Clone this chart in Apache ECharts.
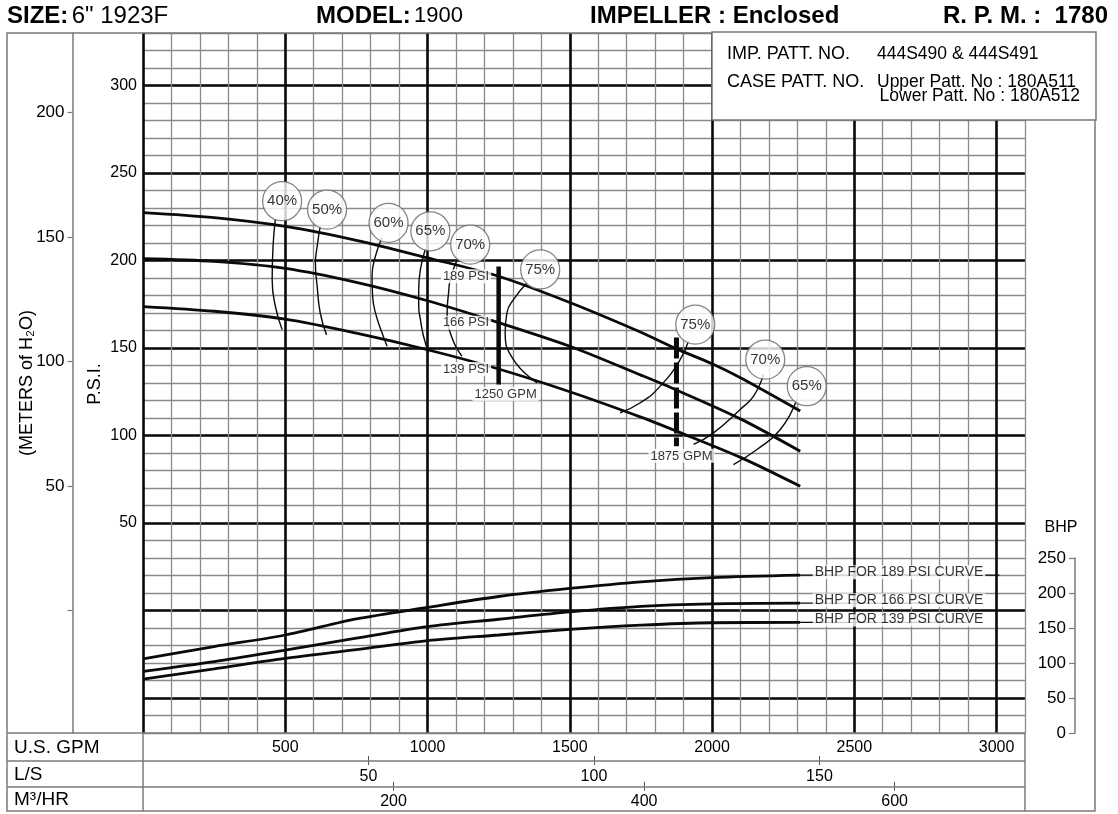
<!DOCTYPE html>
<html>
<head>
<meta charset="utf-8">
<script src="https://cdn.jsdelivr.net/npm/echarts@6/dist/echarts.min.js"></script>
<style>
html,body{margin:0;padding:0;background:#fff;}
#c{width:1118px;height:814px;}
</style>
</head>
<body>
<div id="c"></div>
<script>
// ---------------- DATA ----------------
const gpmTickLabels = [500, 1000, 1500, 2000, 2500, 3000];
const lsTickLabels = [50, 100, 150];
const m3hTickLabels = [200, 400, 600];
const psiTickLabels = [50, 100, 150, 200, 250, 300];
const meterTickLabels = [50, 100, 150, 200];
const meterTicks = [0, 50, 100, 150, 200];
const bhpTickLabels = [0, 50, 100, 150, 200, 250];

// head curves: [US GPM, PSI]
const head189 = [[0,227.4],[250,224.5],[500,219.5],[750,211.5],[1000,201.5],[1250,191],[1500,176],[1750,159],[1875,149.5],[2000,141],[2100,133],[2310,114]];
const head166 = [[0,201],[250,199.5],[500,195.5],[750,187.5],[1000,177],[1250,164.5],[1500,151],[1750,134.5],[1875,126],[2100,109.5],[2310,91]];
const head139 = [[0,173.7],[250,171],[500,166.5],[750,158.5],[1000,149],[1250,138],[1500,125],[1750,110.5],[1875,102.5],[2100,87.5],[2310,71]];

// BHP curves: [US GPM, BHP]
const bhp189 = [[0,106],[250,123.5],[500,140],[750,163],[1000,179.5],[1250,195],[1500,206.5],[1750,216],[2000,222],[2310,225.5]];
const bhp166 = [[0,88],[250,102],[500,118.5],[750,135.5],[1000,152],[1250,162.5],[1500,173],[1750,181],[2000,184.5],[2310,185.5]];
const bhp139 = [[0,77],[250,91.5],[500,106.5],[750,119],[1000,132],[1250,140],[1500,148],[1750,154],[2000,157.5],[2310,158]];
const bhpCurveNames = ['BHP FOR 189 PSI CURVE', 'BHP FOR 166 PSI CURVE', 'BHP FOR 139 PSI CURVE'];
const bhpLeaderEnd = [3010, 2900, 2900];

// iso-efficiency lines: [US GPM, PSI]
const eff40 = [[465,223.4],[457,208],[454,189],[465,174],[489,160.5]];
const eff50 = [[623,219.6],[612,208],[606,198.5],[612,185.5],[623,170],[645,157.5]];
const eff60 = [[840,213],[817,202.5],[805,191],[807,179.6],[817,170.1],[840,158.7],[858,151]];
const eff65L = [[992,206.3],[975,194.9],[969,183.4],[969,173.9],[975,166.3],[986,156.7],[1004,147.3]];
const eff70L = [[1104,200.6],[1080,189.1],[1074,181.5],[1069,170.1],[1086,155.8],[1121,145.3]];
const eff75L = [[1350,187.3],[1302,177.7],[1279,170.1],[1273,158.7],[1302,143.4],[1385,130.1]];
const eff75R = [[1917,153.9],[1888,143.4],[1818,128.2],[1748,118.7],[1677,113]];
const eff70R = [[2181,134.9],[2146,122.5],[2099,114.9],[2005,101.5],[1935,94.9]];
const eff65R = [[2298,120.6],[2240,103.4],[2158,92],[2075,83.4]];

const effCircleGpm = [489, 647, 863, 1010, 1150, 1396, 1941, 2187, 2333];
const effCirclePsi = [233.9, 229.1, 221.5, 216.7, 209.1, 194.9, 163.4, 143.4, 128.2];
const effCircleText = ['40%', '50%', '60%', '65%', '70%', '75%', '75%', '70%', '65%'];

// design points
const bar1250 = [[1250,196.6],[1250,129.1]];
const bar1875 = [[1875,156],[1875,93.9]];
const psiPointLabels = ['189 PSI', '166 PSI', '139 PSI'];
const psiPointValues = [191, 164.5, 138];
const psiPointGpm = 1250;

// ---------------- CONSTANTS ----------------
const FONT = "'Liberation Sans', Arial, Helvetica, sans-serif";
const GPM_MAX = 3100, PSI_MIN = -70, PSI_MAX = 330;
const GPM_PER_LS = 15.8503, GPM_PER_M3H = 4.40287, PSI_PER_M = 1.42233;
const TXT = '#000', FRAME = '#7a7a7a', MINOR = '#8a8a8a', MAJOR = '#0a0a0a';

const chart = echarts.init(document.getElementById('c'));

function curve(data, width, z, smooth, xi, yi) {
  return {type:'line', xAxisIndex:xi||0, yAxisIndex:yi||0, data:data, symbol:'none',
    smooth:smooth, silent:true, z:z, lineStyle:{color:MAJOR, width:width}};
}

const series = [];
[head189, head166, head139].forEach(d => series.push(curve(d, 2.8, 5, 0.3)));
[eff40, eff50, eff60, eff65L, eff70L, eff75L, eff75R, eff70R, eff65R].forEach(d => series.push(curve(d, 1.4, 4, 0.5)));
series.push({type:'line', data:bar1250, symbol:'none', silent:true, z:6, lineStyle:{color:MAJOR, width:4.5, cap:'butt'}});
series.push({type:'line', data:bar1875, symbol:'none', silent:true, z:6, lineStyle:{color:MAJOR, width:5, type:[21,4], cap:'butt'}});

// labels at design points
series.push({type:'scatter', z:8, silent:true, symbolSize:1, itemStyle:{color:'rgba(0,0,0,0)'},
  data: psiPointLabels.map((t,i) => ({name:t, value:[psiPointGpm, psiPointValues[i]]})),
  label:{show:true, position:'left', distance:7, formatter:p => p.name, fontFamily:FONT, fontSize:13, color:TXT,
    backgroundColor:'#fff', padding:[1,2,0,2]}});
series.push({type:'scatter', z:8, silent:true, symbolSize:1, itemStyle:{color:'rgba(0,0,0,0)'},
  data:[{name:bar1250[1][0] + ' GPM', value:bar1250[1], label:{offset:[7,0]}},
        {name:bar1875[1][0] + ' GPM', value:bar1875[1], label:{offset:[5,0]}}],
  label:{show:true, position:'bottom', distance:2, formatter:p => p.name, fontFamily:FONT, fontSize:13, color:TXT,
    backgroundColor:'#fff', padding:[1,2,0,2]}});

// efficiency circles
series.push({type:'scatter', z:10, silent:true, symbol:'circle', symbolSize:39,
  itemStyle:{color:'#fff', borderColor:'#666', borderWidth:1.3},
  data: effCircleGpm.map((g,i) => ({name:effCircleText[i], value:[g, effCirclePsi[i]]})),
  label:{show:true, position:'inside', formatter:p => p.name, fontFamily:FONT, fontSize:15, color:TXT}});

// BHP curves on the lower grid
[bhp189, bhp166, bhp139].forEach((d, i) => {
  const end = d[d.length - 1];
  series.push(curve(d, 2.8, 5, 0.3, 4, 3));
  series.push({type:'line', xAxisIndex:4, yAxisIndex:3, symbol:'none', silent:true, z:4,
    data:[end, [bhpLeaderEnd[i], end[1]]], lineStyle:{color:MAJOR, width:1.4}});
  series.push({type:'scatter', xAxisIndex:4, yAxisIndex:3, z:8, silent:true, symbolSize:1,
    itemStyle:{color:'rgba(0,0,0,0)'}, data:[{name:bhpCurveNames[i], value:end}],
    label:{show:true, position:'right', distance:12, offset:[0,-3], formatter:p => p.name,
      fontFamily:FONT, fontSize:14, color:TXT, backgroundColor:'#fff', padding:[0,2,0,2]}});
});

const hidden = {show:false};
const noLine = {show:false, onZero:false};
const option = {
  animation:false,
  backgroundColor:'#fff',
  textStyle:{fontFamily:FONT},
  grid:[
    {left:143, right:93, top:33, bottom:81},
    {left:143, right:93, top:558, bottom:81}
  ],
  xAxis:[
    {gridIndex:0, type:'value', position:'bottom', min:0, max:GPM_MAX, interval:100, axisLine:noLine, axisTick:hidden, axisLabel:hidden,
      splitLine:{show:true, lineStyle:{color:MINOR, width:1.3}}},
    {gridIndex:0, type:'value', position:'bottom', min:0, max:GPM_MAX, interval:500, axisLine:noLine, axisTick:hidden,
      axisLabel:{show:true, margin:7, fontSize:16, color:TXT, fontFamily:FONT, showMinLabel:false, showMaxLabel:false,
        formatter:v => gpmTickLabels.includes(v) ? String(v) : ''},
      splitLine:{show:true, showMaxLine:false, lineStyle:{color:MAJOR, width:2.6}}},
    {gridIndex:0, type:'value', position:'bottom', offset:23, min:0, max:GPM_MAX / GPM_PER_LS, interval:50,
      axisLine:noLine, splitLine:hidden,
      axisTick:{show:true, length:9, customValues:lsTickLabels, lineStyle:{color:'#555', width:1}},
      axisLabel:{show:true, margin:13, fontSize:16, color:TXT, fontFamily:FONT, customValues:lsTickLabels,
        formatter:v => lsTickLabels.includes(v) ? String(v) : ''}},
    {gridIndex:0, type:'value', position:'bottom', offset:48.7, min:0, max:GPM_MAX / GPM_PER_M3H, interval:200,
      axisLine:noLine, splitLine:hidden,
      axisTick:{show:true, length:9, customValues:m3hTickLabels, lineStyle:{color:'#555', width:1}},
      axisLabel:{show:true, margin:12, fontSize:16, color:TXT, fontFamily:FONT, customValues:m3hTickLabels,
        formatter:v => m3hTickLabels.includes(v) ? String(v) : ''}},
    {gridIndex:1, type:'value', position:'bottom', min:0, max:GPM_MAX, show:false, axisLine:noLine}
  ],
  yAxis:[
    {gridIndex:0, type:'value', position:'left', min:PSI_MIN, max:PSI_MAX, interval:10, axisLine:noLine, axisTick:hidden,
      axisLabel:{show:true, margin:6, fontSize:16, color:TXT, fontFamily:FONT,
        formatter:v => psiTickLabels.includes(v) ? String(v) : ''},
      splitLine:{show:true, lineStyle:{color:MINOR, width:1.3}}},
    {gridIndex:0, type:'value', position:'left', min:PSI_MIN, max:PSI_MAX, interval:10, axisLine:noLine, axisTick:hidden, axisLabel:hidden,
      splitLine:{show:true, showMinLine:true, showMaxLine:true,
        lineStyle:{color:['rgba(0,0,0,0)','rgba(0,0,0,0)',MAJOR,'rgba(0,0,0,0)','rgba(0,0,0,0)'], width:2.6}}},
    {gridIndex:0, type:'value', position:'left', offset:70.5, min:PSI_MIN / PSI_PER_M, max:PSI_MAX / PSI_PER_M,
      splitLine:hidden,
      axisLine:{show:true, onZero:false, lineStyle:{color:FRAME, width:1.5}},
      axisTick:{show:true, length:5, customValues:meterTicks, lineStyle:{color:FRAME, width:1.2}},
      axisLabel:{show:true, margin:8, fontSize:17, color:TXT, fontFamily:FONT, customValues:meterTickLabels,
        formatter:v => meterTickLabels.includes(v) ? String(v) : ''}},
    {gridIndex:1, type:'value', position:'right', offset:50, min:0, max:250, interval:50, splitLine:hidden,
      name:'BHP', nameLocation:'end', nameGap:22,
      nameTextStyle:{fontFamily:FONT, fontSize:16, color:TXT, align:'center', padding:[0,28,0,0]},
      axisLine:{show:true, onZero:false, lineStyle:{color:FRAME, width:1.5}},
      axisTick:{show:true, inside:true, length:6, lineStyle:{color:FRAME, width:1.2}},
      axisLabel:{show:true, inside:true, margin:9, fontSize:17, color:TXT, fontFamily:FONT,
        formatter:v => bhpTickLabels.includes(v) ? String(v) : ''}}
  ],
  series:series,
  graphic:[
    // frame
    {type:'rect', z:100, silent:true, shape:{x:7, y:33, width:1088, height:778}, style:{fill:null, stroke:FRAME, lineWidth:1.5}},
    {type:'line', z:100, silent:true, shape:{x1:7, y1:733, x2:1025, y2:733}, style:{stroke:FRAME, lineWidth:1.5}},
    {type:'line', z:100, silent:true, shape:{x1:7, y1:761, x2:1025, y2:761}, style:{stroke:FRAME, lineWidth:1.5}},
    {type:'line', z:100, silent:true, shape:{x1:7, y1:787, x2:1025, y2:787}, style:{stroke:FRAME, lineWidth:1.5}},
    {type:'line', z:100, silent:true, shape:{x1:143, y1:733, x2:143, y2:811}, style:{stroke:FRAME, lineWidth:1.5}},
    {type:'line', z:100, silent:true, shape:{x1:1025, y1:733, x2:1025, y2:811}, style:{stroke:FRAME, lineWidth:1.5}},
    // row titles
    {type:'text', z:101, silent:true, x:14, y:748, style:{text:'U.S. GPM', font:'19px ' + FONT, fill:TXT, verticalAlign:'middle'}},
    {type:'text', z:101, silent:true, x:14, y:775, style:{text:'L/S', font:'19px ' + FONT, fill:TXT, verticalAlign:'middle'}},
    {type:'text', z:101, silent:true, x:14, y:800, style:{text:'M³/HR', font:'19px ' + FONT, fill:TXT, verticalAlign:'middle'}},
    // axis titles
    {type:'text', z:101, silent:true, x:95.5, y:384, rotation:Math.PI/2,
      style:{text:'P.S.I.', font:'18px ' + FONT, fill:TXT, align:'center', verticalAlign:'middle'}},
    {type:'text', z:101, silent:true, x:27, y:383, rotation:Math.PI/2,
      style:{text:'(METERS of H₂O)', font:'18px ' + FONT, fill:TXT, align:'center', verticalAlign:'middle'}},
    // header
    {type:'text', z:101, silent:true, x:7, y:16, style:{text:'{b|SIZE:} {r|6" 1923F}', verticalAlign:'middle', fill:TXT,
      rich:{b:{font:'bold 24px ' + FONT, fill:TXT}, r:{font:'24px ' + FONT, fill:TXT}}}},
    {type:'text', z:101, silent:true, x:316, y:16, style:{text:'{b|MODEL:} {r|1900}', verticalAlign:'middle', fill:TXT,
      rich:{b:{font:'bold 24px ' + FONT, fill:TXT}, r:{font:'22px ' + FONT, fill:TXT}}}},
    {type:'text', z:101, silent:true, x:590, y:16, style:{text:'IMPELLER : Enclosed', font:'bold 24px ' + FONT, fill:TXT, verticalAlign:'middle'}},
    {type:'text', z:101, silent:true, x:1108, y:16, style:{text:'R. P. M. :  1780', font:'bold 24px ' + FONT, fill:TXT, align:'right', verticalAlign:'middle'}},
    // pattern box
    {type:'rect', z:102, silent:true, shape:{x:712, y:32, width:384, height:88}, style:{fill:'#fff', stroke:FRAME, lineWidth:1.5}},
    {type:'text', z:103, silent:true, x:727, y:54, style:{text:'IMP. PATT. NO.', font:'18px ' + FONT, fill:TXT, verticalAlign:'middle'}},
    {type:'text', z:103, silent:true, x:877, y:54, style:{text:'444S490 & 444S491', font:'17.5px ' + FONT, fill:TXT, verticalAlign:'middle'}},
    {type:'text', z:103, silent:true, x:727, y:82, style:{text:'CASE PATT. NO.', font:'18px ' + FONT, fill:TXT, verticalAlign:'middle'}},
    {type:'text', z:103, silent:true, x:877, y:82, style:{text:'Upper Patt. No : 180A511', font:'17.5px ' + FONT, fill:TXT, verticalAlign:'middle'}},
    {type:'text', z:103, silent:true, x:1080, y:96, style:{text:'Lower Patt. No : 180A512', font:'17.5px ' + FONT, fill:TXT, align:'right', verticalAlign:'middle'}}
  ]
};
chart.setOption(option);
</script>
</body>
</html>
